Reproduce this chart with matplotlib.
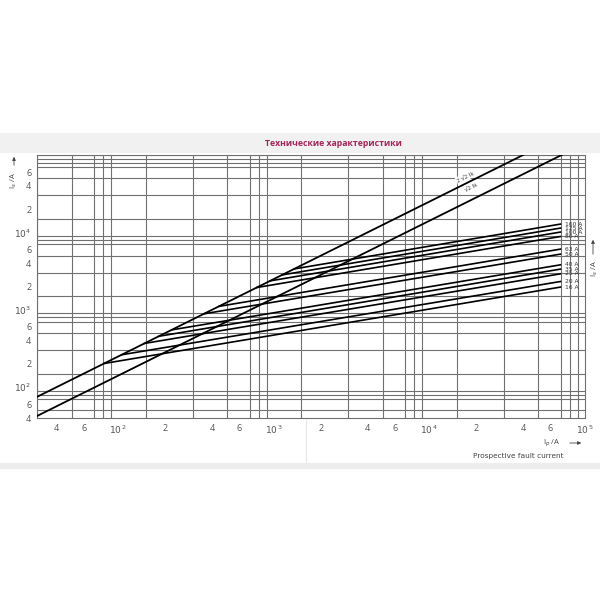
import matplotlib
matplotlib.use("Agg")
import matplotlib.pyplot as plt
from matplotlib.ticker import FixedLocator, NullFormatter
from matplotlib.patches import Rectangle, FancyArrowPatch
import numpy as np

plt.rcParams['font.family'] = ['Open Sans', 'DejaVu Sans']

# ---- data ----
ik_range = [30, 100000]                 # prospective fault current span (A)
peak_factors = [2.5, 1.414]             # upper / lower diagonal factors
peak_labels = ["2 √2 Ik", "√2 Ik"]
peak_label_pos = [(17100, 52300), (18660, 37700)]

fuse_ratings = ["16 A", "20 A", "25 A", "35 A", "40 A", "50 A", "63 A",
                "80 A", "100 A", "125 A", "160 A"]
fuse_start_ik = [81, 105, 147, 182, 220, 355, 443, 776, 946, 1130, 1349]
fuse_end_ik = 69500
fuse_end_is = [1965, 2320, 2915, 3355, 3810, 5240, 6080, 8850, 10100, 11370, 12800]

x_tick_vals = [40, 60, 100, 200, 400, 600, 1e3, 2e3, 4e3, 6e3, 1e4, 2e4, 4e4, 6e4, 1e5]
x_tick_labels = ["4", "6", "$10^{\\,2}$", "2", "4", "6", "$10^{\\,3}$", "2", "4", "6",
                 "$10^{\\,4}$", "2", "4", "6", "$10^{\\,5}$"]
y_tick_vals = [40, 60, 100, 200, 400, 600, 1e3, 2e3, 4e3, 6e3, 1e4, 2e4, 4e4, 6e4]
y_tick_labels = ["4", "6", "$10^{2}$", "2", "4", "6", "$10^{3}$", "2", "4", "6",
                 "$10^{4}$", "2", "4", "6"]
grid_mult = [1, 1.5, 2, 3, 4, 5, 6, 7, 8, 9]

title = "Технические характеристики"

# ---- figure ----
fig = plt.figure(figsize=(6, 6), dpi=100)
fig.patch.set_facecolor("white")

# page bands
fig.patches.append(Rectangle((0, 1 - 153/600), 1, 20/600, transform=fig.transFigure,
                             facecolor="#f1f1f1", edgecolor="none", zorder=0))
fig.patches.append(Rectangle((0, 1 - 469/600), 1, 6/600, transform=fig.transFigure,
                             facecolor="#ededed", edgecolor="none", zorder=0))
fig.add_artist(plt.Line2D([306/600, 306/600], [1 - 462/600, 1 - 420/600],
                          transform=fig.transFigure, color="#e6e6e6", lw=0.8))

ax = fig.add_axes([37/600, 1 - 418/600, 548/600, 263/600])
ax.set_xscale("log")
ax.set_yscale("log")
ax.set_xlim(30, 1e5)
ax.set_ylim(40, 1e5)

gx = [m * 10**e for e in range(1, 6) for m in grid_mult if 30 <= m * 10**e <= 1e5]
gy = [m * 10**e for e in range(1, 6) for m in grid_mult if 40 <= m * 10**e <= 1e5]
ax.xaxis.set_minor_locator(FixedLocator(gx))
ax.yaxis.set_minor_locator(FixedLocator(gy))
ax.xaxis.set_minor_formatter(NullFormatter())
ax.yaxis.set_minor_formatter(NullFormatter())
ax.xaxis.set_major_locator(FixedLocator(x_tick_vals))
ax.yaxis.set_major_locator(FixedLocator(y_tick_vals))
ax.set_xticklabels(x_tick_labels)
ax.set_yticklabels(y_tick_labels)
ax.grid(which="minor", color="#707070", lw=0.8)
ax.grid(which="major", visible=False)
ax.tick_params(which="both", length=0, labelsize=6.5, colors="#555555", pad=4)
for s in ax.spines.values():
    s.set_color("#707070")
    s.set_linewidth(0.8)

# diagonals
ik = np.array(ik_range, dtype=float)
for f in peak_factors:
    ax.plot(ik, f * ik, color="black", lw=1.3, zorder=3)

# fuse lines
for name, x0, y1 in zip(fuse_ratings, fuse_start_ik, fuse_end_is):
    ax.plot([x0, fuse_end_ik], [peak_factors[0] * x0, y1], color="black", lw=1.2, zorder=3)
    ax.annotate(name, (fuse_end_ik, y1), xytext=(3, 0), textcoords="offset points",
                fontsize=4.3, va="center", ha="left", color="#333333",
                family=["Liberation Sans Narrow", "DejaVu Sans"], annotation_clip=False)

# diagonal labels
for lab, (lx, ly) in zip(peak_labels, peak_label_pos):
    ax.text(lx, ly, lab, rotation=26.5, fontsize=4.5, ha="center", va="center",
            color="#333333", zorder=2,
            bbox=dict(facecolor="white", edgecolor="none", pad=0.8))

# title
fig.text(333/600, 1 - 144/600, title, color="#a3285c", fontsize=6.3, fontweight="bold",
         ha="center", va="center")

# axis labels
arrow_style = "-|>,head_length=2,head_width=1"
fig.text(14/600, 1 - 181/600, "I$_s$ /A", rotation=90, fontsize=5.5, color="#444444",
         ha="center", va="center")
fig.add_artist(FancyArrowPatch((14/600, 1 - 168/600), (14/600, 1 - 154/600),
               transform=fig.transFigure, arrowstyle=arrow_style, color="#444444", lw=0.6))
fig.text(595/600, 1 - 269/600, "I$_s$ /A", rotation=90, fontsize=5.5, color="#444444",
         ha="center", va="center")
fig.add_artist(FancyArrowPatch((593/600, 1 - 257/600), (593/600, 1 - 237/600),
               transform=fig.transFigure, arrowstyle=arrow_style, color="#444444", lw=0.6))
fig.text(552/600, 1 - 443/600, "I$_p$ /A", fontsize=5.5, color="#444444",
         ha="center", va="center")
fig.add_artist(FancyArrowPatch((567/600, 1 - 443/600), (584/600, 1 - 443/600),
               transform=fig.transFigure, arrowstyle=arrow_style, color="#444444", lw=0.6))
fig.text(518/600, 1 - 456/600, "Prospective fault current", fontsize=5.3, color="#444444",
         ha="center", va="center", family=["Liberation Sans Narrow", "DejaVu Sans"])

fig.savefig("out.png", dpi=100, facecolor="white")
